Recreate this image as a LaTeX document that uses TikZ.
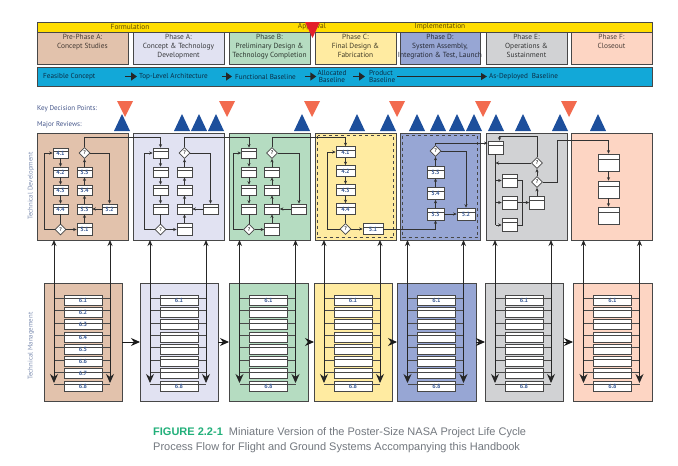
\documentclass[tikz,border=0pt]{standalone}
\usepackage{fontspec}
\setmainfont{PT Sans}
\newfontfamily\capfont{Liberation Sans}
\usetikzlibrary{arrows.meta,shapes.geometric,calc}

\definecolor{prepA}{HTML}{E2C2AC}
\definecolor{phA}{HTML}{E1E2F2}
\definecolor{phB}{HTML}{B5DCC1}
\definecolor{phC}{HTML}{FFEBA1}
\definecolor{phD}{HTML}{97A6D4}
\definecolor{phE}{HTML}{D1D2D4}
\definecolor{phF}{HTML}{FDD5C3}
\definecolor{bandyel}{HTML}{FFDD00}
\definecolor{bandtxt}{HTML}{5E4700}
\definecolor{bandcyan}{HTML}{12A8D8}
\definecolor{bartxt}{HTML}{0B2D45}
\definecolor{kdpred}{HTML}{F26A4E}
\definecolor{mrblue}{HTML}{1D4F9C}
\definecolor{apred}{HTML}{E3202A}
\definecolor{edgegray}{HTML}{474747}
\definecolor{lblblue}{HTML}{3A5A95}
\definecolor{sidegray}{HTML}{7F8FB2}
\definecolor{revtxt}{HTML}{44558A}
\definecolor{figgreen}{HTML}{22B07A}
\definecolor{capgray}{HTML}{73787F}

\tikzstyle{phbox} = [draw=edgegray, line width=0.9pt, anchor=north west, inner sep=0pt, outer sep=0pt]
\tikzstyle{phtext} = [anchor=north, align=center, inner sep=0pt, font=\fontsize{7.4}{8.8}\selectfont]
\tikzstyle{bartext} = [anchor=west, align=left, inner sep=0pt, text=bartxt, font=\fontsize{7.2}{7.8}\selectfont]
\tikzstyle{bandtext} = [inner sep=0pt, text=bandtxt, font=\fontsize{7.4}{8}\selectfont]
\tikzstyle{sidetext} = [rotate=90, inner sep=0pt, text=sidegray, font=\fontsize{6.8}{8}\selectfont]
\tikzstyle{revtext} = [anchor=west, inner sep=0pt, text=revtxt, font=\fontsize{7}{7}\selectfont]
\tikzstyle{sbox} = [draw=edgegray, fill=white, line width=0.75pt, minimum width=15pt, minimum height=10pt, inner sep=0pt, text=lblblue, font=\fontsize{6}{6}\selectfont\bfseries, path picture={\draw[edgegray, line width=0.55pt] ($(path picture bounding box.north west)!0.32!(path picture bounding box.south west)$) -- ($(path picture bounding box.north east)!0.32!(path picture bounding box.south east)$);}]
\tikzstyle{dec} = [diamond, draw=edgegray, fill=white, line width=0.75pt, inner sep=0pt, minimum size=11pt, text=edgegray, font=\fontsize{5.5}{5.5}\selectfont\bfseries]
\tikzstyle{flow} = [edgegray!70!black, line width=0.8pt, -{Stealth[length=3.5pt,width=3.2pt]}]
\tikzstyle{link} = [edgegray!70!black, line width=0.8pt]
\tikzstyle{barrow} = [black!85, line width=1.8pt, -{Triangle[length=6pt,width=8pt]}]
\tikzstyle{longarrow} = [black!85, line width=1.1pt, -{Triangle[length=6pt,width=7pt]}]
\tikzstyle{stepto} = [black!90, line width=0.9pt, -{Stealth[length=9pt,width=8pt]}]
\tikzstyle{feed} = [black!85, line width=0.9pt, {Stealth[length=6pt,width=5pt]}-{Stealth[length=9pt,width=8pt]}]
\tikzstyle{rung} = [edgegray, line width=0.8pt]

\newcommand\boxlbl[1]{\raisebox{-1.3pt}{#1}}
\newcommand\lbltag[2]{\ifnum#1=1 \boxlbl{#2}\fi}

\begin{document}
\begin{tikzpicture}[x=1pt,y=-1pt]
	\path[use as bounding box, fill=white] (0,0) rectangle (678,466);

	\node[phbox, fill=bandyel, minimum width=615pt, minimum height=10pt] (band) at (37,22) {};
	\node[bandtext] (formu) at (130,27) {Formulation};
	\node[bandtext] (appr) at (312,27) {Approval};
	\node[bandtext] (impl) at (440,27) {Implementation};

	\node[phbox, fill=prepA, minimum width=91pt, minimum height=32pt] (phP) at (37,32) {};
	\node[phbox, fill=phA, minimum width=91pt, minimum height=32pt] (phA) at (133,32) {};
	\node[phbox, fill=phB, minimum width=81pt, minimum height=32pt] (phB) at (229,32) {};
	\node[phbox, fill=phC, minimum width=81pt, minimum height=32pt] (phC) at (315,32) {};
	\node[phbox, fill=phD, minimum width=80pt, minimum height=32pt] (phD) at (400,32) {};
	\node[phbox, fill=phE, minimum width=81pt, minimum height=32pt] (phE) at (486,32) {};
	\node[phbox, fill=phF, minimum width=81pt, minimum height=32pt] (phF) at (571,32) {};
	\node[phtext, text=prepA!30!black] (phPt) at ([yshift=-2.5pt]phP.north) {Pre-Phase A:\\Concept Studies};
	\node[phtext, text=phA!25!black] (phAt) at ([yshift=-2.5pt]phA.north) {Phase A:\\Concept \& Technology\\Development};
	\node[phtext, text=phB!25!black] (phBt) at ([yshift=-2.5pt]phB.north) {Phase B:\\Preliminary Design \&\\Technology Completion};
	\node[phtext, text=phC!25!black] (phCt) at ([yshift=-2.5pt]phC.north) {Phase C:\\Final Design \&\\Fabrication};
	\node[phtext, text=phD!25!black] (phDt) at ([yshift=-2.5pt]phD.north) {Phase D:\\System Assembly,\\Integration \& Test, Launch};
	\node[phtext, text=phE!25!black] (phEt) at ([yshift=-2.5pt]phE.north) {Phase E:\\Operations \&\\Sustainment};
	\node[phtext, text=phF!30!black] (phFt) at ([yshift=-2.5pt]phF.north) {Phase F:\\Closeout};
	\fill[apred] (305,22) -- (320,22) -- (312.5,38) -- cycle;

	\node[phbox, fill=bandcyan, minimum width=615pt, minimum height=19pt] (blbar) at (37,67) {};
	\node[bartext] (bl1) at (43,76.5) {Feasible Concept};
	\node[bartext] (bl2) at (139,76.5) {Top-Level Architecture};
	\node[bartext] (bl3) at (235,76.5) {Functional Baseline};
	\node[bartext, anchor=center, align=center] (bl4) at (332,76.5) {Allocated\\Baseline};
	\node[bartext] (bl5) at (369,76.5) {Product\\Baseline};
	\node[bartext] (bl6) at (489,76.5) {As-Deployed\ \ Baseline};
	\draw[barrow] ([xshift=-14pt]bl2.west) -- ([xshift=-2pt]bl2.west);
	\draw[barrow] ([xshift=-13pt]bl3.west) -- ([xshift=-3pt]bl3.west);
	\draw[barrow] ([xshift=-12pt]bl4.west) -- ([xshift=-1pt]bl4.west);
	\draw[barrow] ([xshift=-16pt]bl5.west) -- ([xshift=-4pt]bl5.west);
	\draw[longarrow] ([xshift=2pt]bl5.east) -- ([xshift=-2pt]bl6.west);

	\node[revtext] (kdpl) at (37,109) {Key Decision Points:};
	\node[revtext] (mrl) at (37,125) {Major Reviews:};
	\foreach \x in {122,182,199,216,302,357,388,417,438,457,474,496,523,560,598}
		\fill[mrblue] (\x-8,131) -- (\x+8,131) -- (\x,114) -- cycle;
	\foreach \x in {125,227,312,397,483,569}
		\fill[kdpred] (\x-8,101) -- (\x+8,101) -- (\x,117) -- cycle;

	\node[phbox, fill=prepA, minimum width=91pt, minimum height=107pt] (tdP) at (37,133) {};
	\node[phbox, fill=phA, minimum width=91pt, minimum height=107pt] (tdA) at (133,133) {};
	\node[phbox, fill=phB, minimum width=81pt, minimum height=107pt] (tdB) at (229,133) {};
	\node[phbox, fill=phC, minimum width=81pt, minimum height=107pt] (tdC) at (315,133) {};
	\node[phbox, fill=phD, minimum width=80pt, minimum height=107pt] (tdD) at (400,133) {};
	\node[phbox, fill=phE, minimum width=81pt, minimum height=107pt] (tdE) at (486,133) {};
	\node[phbox, fill=phF, minimum width=81pt, minimum height=107pt] (tdF) at (571,133) {};
	\draw[dashed, edgegray, line width=0.6pt] ([xshift=2.5pt,yshift=-2.5pt]tdC.north west) rectangle ([xshift=-2.5pt,yshift=2.5pt]tdC.south east);
	\draw[dashed, edgegray, line width=0.6pt] ([xshift=2.5pt,yshift=-2.5pt]tdD.north west) rectangle ([xshift=-2.5pt,yshift=2.5pt]tdD.south east);

	\node[phbox, fill=prepA, minimum width=78pt, minimum height=118pt] (tmP) at (44,283) {};
	\node[phbox, fill=phA, minimum width=78pt, minimum height=118pt] (tmA) at (140,283) {};
	\node[phbox, fill=phB, minimum width=79pt, minimum height=118pt] (tmB) at (229,283) {};
	\node[phbox, fill=phC, minimum width=78pt, minimum height=118pt] (tmC) at (314,283) {};
	\node[phbox, fill=phD, minimum width=79pt, minimum height=118pt] (tmD) at (397,283) {};
	\node[phbox, fill=phE, minimum width=78pt, minimum height=118pt] (tmE) at (485,283) {};
	\node[phbox, fill=phF, minimum width=79pt, minimum height=118pt] (tmF) at (573,283) {};
	\draw[stepto] (tmP) -- (tmA);
	\draw[stepto] (tmA) -- (tmB);
	\draw[stepto] (tmB) -- (tmC);
	\draw[stepto] (tmC) -- (tmD);
	\draw[stepto] (tmD) -- (tmE);
	\draw[stepto] (tmE) -- (tmF);

	\foreach \n/\ca/\cb/\cc/\lb in {P/60.5/84.5/109.5/1, A/160.5/184.5/210.5/0, B/249/272/299/0} {
		\node[sbox] (\n-1) at (\ca,153) {\lbltag{\lb}{4.1}};
		\node[sbox] (\n-2) at (\ca,172) {\lbltag{\lb}{4.2}};
		\node[sbox] (\n-3) at (\ca,190) {\lbltag{\lb}{4.3}};
		\node[sbox] (\n-4) at (\ca,209) {\lbltag{\lb}{4.4}};
		\node[dec] (\n-d2) at (\ca,229.5) {?};
		\node[sbox, minimum height=12pt] (\n-51) at (\cb,229.5) {\lbltag{\lb}{5.1}};
		\node[sbox] (\n-53) at (\cb,209) {\lbltag{\lb}{5.3}};
		\node[sbox] (\n-54) at (\cb,190) {\lbltag{\lb}{5.4}};
		\node[sbox] (\n-55) at (\cb,172) {\lbltag{\lb}{5.5}};
		\node[dec] (\n-d1) at (\cb,153) {?};
		\node[sbox] (\n-52) at (\cc,209) {\lbltag{\lb}{5.2}};
		\draw[flow] (\n-1) -- (\n-2);
		\draw[flow] (\n-2) -- (\n-3);
		\draw[flow] (\n-3) -- (\n-4);
		\draw[link] (\n-4) -- (\n-d2);
		\draw[flow] (\n-d2.west) -- ++(-10,0) |- (\n-1.west);
		\draw[flow] (\n-d2) -- (\n-51);
		\draw[flow] (\n-51) -- (\n-53);
		\draw[flow] (\n-53) -- (\n-54);
		\draw[flow] (\n-54) -- (\n-55);
		\draw[flow] (\n-55) -- (\n-d1);
		\draw[flow] (\n-d1.east) -| (\n-52.north);
		\draw[flow] (\n-52) -- (\n-53);
	}

	\node[sbox, minimum width=19pt, minimum height=11pt] (C-1) at (345.5,152) {\boxlbl{4.1}};
	\node[sbox, minimum width=19pt, minimum height=11pt] (C-2) at (345.5,171) {\boxlbl{4.2}};
	\node[sbox, minimum width=19pt, minimum height=11pt] (C-3) at (345.5,190) {\boxlbl{4.3}};
	\node[sbox, minimum width=19pt, minimum height=11pt] (C-4) at (345.5,209) {\boxlbl{4.4}};
	\node[dec] (C-d) at (345.5,229) {?};
	\node[sbox, minimum width=20pt, minimum height=11pt] (C-51) at (373,229) {\boxlbl{5.1}};
	\draw[flow] (P-d1.north) -- ++(0,-10) -| (A-1.north);
	\draw[flow] (A-d1.north) -- ++(0,-10) -| (B-1.north);
	\draw[flow] (B-d1.north) -- ++(0,-10) -| (C-1.north);
	\draw[flow] (C-1) -- (C-2);
	\draw[flow] (C-2) -- (C-3);
	\draw[flow] (C-3) -- (C-4);
	\draw[link] (C-4) -- (C-d);
	\draw[flow] (C-d.west) -- ++(-12,0) |- (C-1.west);
	\draw[flow] (C-d) -- (C-51);

	\node[sbox, minimum width=17pt, minimum height=12pt] (D-55) at (435.5,172) {\boxlbl{5.5}};
	\node[sbox, minimum width=17pt, minimum height=12pt] (D-54) at (435.5,193.5) {\boxlbl{5.4}};
	\node[sbox, minimum width=17pt, minimum height=12pt] (D-53) at (435.5,214) {\boxlbl{5.3}};
	\node[sbox, minimum width=18pt, minimum height=12pt] (D-52) at (466,214) {\boxlbl{5.2}};
	\node[dec] (D-d) at (435.5,151) {?};
	\draw[flow] (C-51.east) -| (D-53.south);
	\draw[flow] (D-53) -- (D-54);
	\draw[flow] (D-54) -- (D-55);
	\draw[flow] (D-55) -- (D-d);
	\draw[flow] (D-d.east) -| (D-52.north);
	\draw[flow] (D-53) -- (D-52);

	\node[sbox, minimum height=13pt] (E-1) at (495.5,147.5) {};
	\node[sbox, minimum height=13pt] (E-2) at (509.5,180.5) {};
	\node[sbox, minimum height=13pt] (E-3) at (509.5,202.5) {};
	\node[sbox, minimum height=13pt] (E-4) at (509.5,225) {};
	\node[sbox, minimum height=13pt] (E-5) at (537,202.5) {};
	\node[dec] (E-d1) at (537,163) {?};
	\node[dec] (E-d2) at (537,182) {?};
	\draw[flow] (D-d.north) |- ([yshift=-2.5pt]E-1.north west);
	\draw[link] (E-1.south) -- (E-1.south |- E-4.west);
	\draw[flow] (E-1.south |- E-2.west) -- (E-2.west);
	\draw[flow] (E-1.south |- E-3.west) -- (E-3.west);
	\draw[flow] (E-1.south |- E-4.west) -- (E-4.west);
	\draw[link] (E-2.east) -- ++(5,0) |- (E-4.east);
	\draw[flow] (E-3) -- (E-5);
	\draw[flow] (E-5) -- (E-d2);
	\draw[flow] (E-d2) -- (E-d1);
	\draw[flow] (E-d1.west) -- (E-1.south |- E-d1.west);
	\draw[flow] (E-d1.north) -- ++(0,-21) -| ([xshift=4pt]E-1.north);

	\node[sbox, minimum width=21pt, minimum height=17pt] (F-1) at (608.5,162.5) {};
	\node[sbox, minimum width=21pt, minimum height=17pt] (F-2) at (608.5,189.5) {};
	\node[sbox, minimum width=21pt, minimum height=17pt] (F-3) at (608.5,215.5) {};
	\draw[flow] (E-d2.east) -- ++(15,0) -- ++(0,-42) -| (F-1.north);
	\draw[flow] (F-1) -- (F-2);
	\draw[flow] (F-2) -- (F-3);

	\foreach \n/\cx/\lb in {P/83/1, A/179/0, B/268.5/0, C/353/0, D/436.5/0, E/524/0, F/612.5/0} {
		\foreach \i in {1,...,8}
			\draw[rung] (\cx-29,298.5+12.3*\i-12.3) -- (\cx+27,298.5+12.3*\i-12.3);
		\foreach \i in {1,...,8}
			\node[sbox, minimum width=38pt] (\n-b\i) at (\cx,300+12.3*\i-12.3) {\ifnum\lb=1 \boxlbl{6.\i}\else\ifnum\i=1 \boxlbl{6.1}\fi\ifnum\i=8 \boxlbl{6.8}\fi\fi};
		\coordinate (\n-l) at (\cx-29,383);
		\coordinate (\n-r) at (\cx+27,383);
		\draw[feed] (\n-l |- td\n.south) -- (\n-l);
		\draw[feed] (\n-r |- td\n.south) -- (\n-r);
	}

	\node[sidetext] (tdlab) at (31,186) {Technical Development};
	\node[sidetext] (tmlab) at (31,346) {Technical Management};

	\node[anchor=west, inner sep=0pt, text=capgray, font=\capfont\fontsize{11}{13}\selectfont] (cap1) at (153,433) {\textcolor{figgreen}{\bfseries FIGURE 2.2-1}\ \ Miniature Version of the Poster-Size NASA Project Life Cycle};
	\node[anchor=west, inner sep=0pt, text=capgray, font=\capfont\fontsize{11}{13}\selectfont] (cap2) at (153,448) {Process Flow for Flight and Ground Systems Accompanying this Handbook};
\end{tikzpicture}
\end{document}
